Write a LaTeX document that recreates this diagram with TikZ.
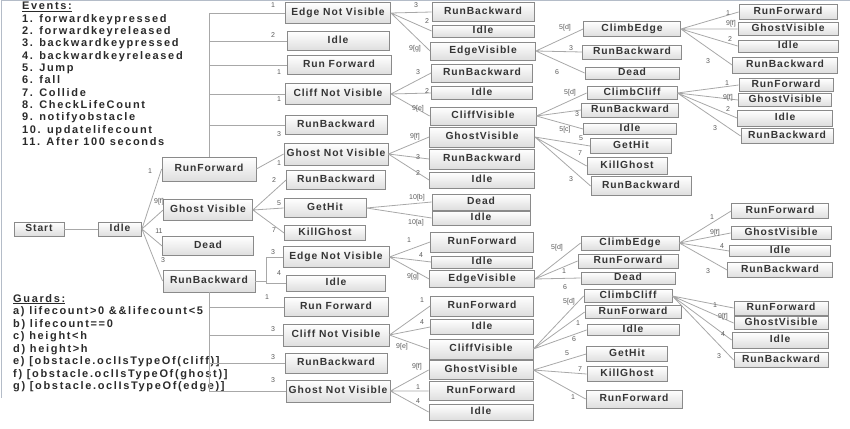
\documentclass[tikz,border=0pt]{standalone}
\usepackage{fontspec}
\setmainfont{Liberation Sans}
\newfontfamily\boxfont[LetterSpace=9]{Liberation Sans}
\newfontfamily\notefont[LetterSpace=15]{Liberation Sans}
\definecolor{boxline}{HTML}{8A8A8A}
\definecolor{boxfill}{HTML}{DEDEDE}
\definecolor{boxtext}{HTML}{353535}
\definecolor{notetext}{HTML}{2A2A2A}
\definecolor{linkgray}{HTML}{A8A8A8}
\definecolor{lblgray}{HTML}{5A5A5A}
\definecolor{frame}{HTML}{B4BCC8}
\tikzset{
	state/.style 2 args={
		rectangle,
		draw=boxline,
		line width=0.8pt,
		top color=white,
		bottom color=boxfill,
		text=boxtext,
		font=\boxfont\bfseries\fontsize{10.3}{12}\selectfont,
		inner sep=0pt,
		text height=7.4pt,
		text depth=1.5pt,
		minimum width=#1,
		minimum height=#2,
	},
	link/.style={draw=linkgray, line width=0.8pt},
	lbl/.style={font=\fontsize{7}{8}\selectfont, text=lblgray, inner sep=0pt},
	note/.style={anchor=west, font=\notefont\bfseries\fontsize{11}{13}\selectfont,
		text=notetext, inner sep=0pt, text height=8pt, text depth=2pt},
}
\begin{document}
\begin{tikzpicture}[x=1pt, y=-1pt]
\useasboundingbox (0,0) rectangle (850,428);
\draw[frame, line width=0.8pt] (1.5,398) -- (1.5,0.5) -- (850,0.5);

% events and guards
\foreach \t [count=\i] in {\underline{Events:}, 1. forwardkeypressed, 2. forwardkeyreleased,
	3. backwardkeypressed, 4. backwardkeyreleased, 5. Jump, 6. fall, 7. Collide,
	8. CheckLifeCount, 9. notifyobstacle, 10. updatelifecount, 11. After 100 seconds}
	\node[note] (ev\i) at (22,{7+12.3*(\i-1)}) {\t};
\foreach \t [count=\i] in {\underline{Guards:}, {a) lifecount>0 \&\&lifecount<5}, {b) lifecount==0},
	{c) height<h}, {d) height>h}, {e) [obstacle.oclIsTypeOf(cliff)]},
	{f) [obstacle.oclIsTypeOf(ghost)]}, {g) [obstacle.oclIsTypeOf(edge)]}}
	\node[note] (gd\i) at (13,{299+12.5*(\i-1)}) {\t};

% root
\node[state={50}{14}] (start) at (39,229) {Start};
\node[state={43}{14}] (idle) at (120,229) {Idle};

% level 1
\node[state={94}{24}] (rf) at (209,169) {RunForward};
\node[state={89}{21}] (gv) at (208,210) {Ghost Visible};
\node[state={91}{19}] (dead) at (208,246) {Dead};
\node[state={92}{22}] (rb) at (209,281) {RunBackward};

% level 2
\node[state={105}{21}] (a1) at (338,13) {Edge Not Visible};
\node[state={102}{19}] (a2) at (338,41) {Idle};
\node[state={104}{19}] (a3) at (339,65) {Run Forward};
\node[state={105}{21}] (a4) at (338,94) {Cliff Not Visible};
\node[state={102}{19}] (a5) at (336,125) {RunBackward};
\node[state={104}{22}] (a6) at (336,154) {Ghost Not Visible};
\node[state={99}{19}] (b1) at (336,180) {RunBackward};
\node[state={82}{19}] (b2) at (325,208) {GetHit};
\node[state={81}{15}] (b3) at (325,233) {KillGhost};
\node[state={106}{21}] (c1) at (336,257) {Edge Not Visible};
\node[state={99}{16}] (c2) at (336,283) {Idle};
\node[state={104}{19}] (c3) at (336,307) {Run Forward};
\node[state={106}{22}] (c4) at (336,335) {Cliff Not Visible};
\node[state={102}{20}] (c5) at (336,363) {RunBackward};
\node[state={104}{22}] (c6) at (338,391) {Ghost Not Visible};

% level 3
\node[state={102}{19}] (d1) at (483,12) {RunBackward};
\node[state={102}{12}] (d2) at (483,31) {Idle};
\node[state={105}{18}] (d3) at (483,51) {EdgeVisible};
\node[state={101}{18}] (d4) at (482,73) {RunBackward};
\node[state={101}{13}] (d5) at (482,93) {Idle};
\node[state={106}{18}] (d6) at (483,116) {CliffVisible};
\node[state={105}{20}] (d7) at (482,137) {GhostVisible};
\node[state={105}{20}] (d8) at (482,159) {RunBackward};
\node[state={105}{16}] (d9) at (482,180) {Idle};
\node[state={98}{16}] (e1) at (481,202) {Dead};
\node[state={98}{14}] (e2) at (481,218) {Idle};
\node[state={103}{20}] (e3) at (482,242) {RunForward};
\node[state={101}{12}] (e4) at (482,262) {Idle};
\node[state={105}{17}] (e5) at (482,279) {EdgeVisible};
\node[state={103}{20}] (e6) at (482,306) {RunForward};
\node[state={103}{15}] (e7) at (482,327) {Idle};
\node[state={104}{20}] (e8) at (481,349) {CliffVisible};
\node[state={104}{19}] (e9) at (481,370) {GhostVisible};
\node[state={104}{19}] (e10) at (481,391) {RunForward};
\node[state={104}{16}] (e11) at (481,412) {Idle};

% level 4
\node[state={97}{15}] (f1) at (632,29) {ClimbEdge};
\node[state={99}{14}] (f2) at (632,52) {RunBackward};
\node[state={94}{12}] (f3) at (632,73) {Dead};
\node[state={90}{13}] (f4) at (632,93) {ClimbCliff};
\node[state={97}{14}] (f5) at (630,110) {RunBackward};
\node[state={93}{11}] (f6) at (630,129) {Idle};
\node[state={81}{15}] (f7) at (631,146) {GetHit};
\node[state={80}{17}] (f8) at (627,166) {KillGhost};
\node[state={100}{19}] (f9) at (641,186) {RunBackward};
\node[state={98}{14}] (g1) at (630,243) {ClimbEdge};
\node[state={100}{14}] (g2) at (628,261) {RunForward};
\node[state={94}{12}] (g3) at (628,278) {Dead};
\node[state={88}{13}] (g4) at (628,296) {ClimbCliff};
\node[state={96}{13}] (g5) at (633,312) {RunForward};
\node[state={92}{11}] (g6) at (633,330) {Idle};
\node[state={81}{15}] (g7) at (627,354) {GetHit};
\node[state={80}{15}] (g8) at (627,374) {KillGhost};
\node[state={96}{18}] (g9) at (634,399) {RunForward};

% level 5
\node[state={98}{15}] (h1) at (788,12) {RunForward};
\node[state={100}{13}] (h2) at (788,29) {GhostVisible};
\node[state={100}{12}] (h3) at (788,46) {Idle};
\node[state={105}{16}] (h4) at (785,65) {RunBackward};
\node[state={94}{13}] (h5) at (786,85) {RunForward};
\node[state={93}{13}] (h6) at (785,100) {GhostVisible};
\node[state={95}{16}] (h7) at (785,118) {Idle};
\node[state={92}{15}] (h8) at (787,136) {RunBackward};
\node[state={97}{15}] (i1) at (780,211) {RunForward};
\node[state={100}{13}] (i2) at (781,233) {GhostVisible};
\node[state={101}{11}] (i3) at (780,251) {Idle};
\node[state={105}{15}] (i4) at (780,270) {RunBackward};
\node[state={94}{14}] (i5) at (781,308) {RunForward};
\node[state={94}{13}] (i6) at (781,323) {GhostVisible};
\node[state={96}{16}] (i7) at (780,340) {Idle};
\node[state={94}{15}] (i8) at (781,360) {RunBackward};

\begin{scope}[link]
\draw (start) -- (idle);
\draw (idle.east) -- (rf.west) (idle.east) -- (gv.west) (idle.east) -- (dead.west) (idle.east) -- (rb.west);
\draw (rf.north) |- (a1.west) (rf.north) |- (a2.west) (rf.north) |- (a3.west) (rf.north) |- (a4.west) (rf.north) |- (a5.west);
\draw (rf.east) -- (a6.west);
\draw (gv.east) -- (b1.west) (gv.east) -- (b2.west) (gv.east) -- (b3.west);
\draw (rb.east) -- ++(11,0) coordinate (rbj) |- (c1.west) (rbj) |- (c2.west);
\draw (rb.south) |- (c3.west) (rb.south) |- (c4.west) (rb.south) |- (c5.west) (rb.south) |- (c6.west);
\draw (a1.east) -- (d1.west) (a1.east) -- (d2.west) (a1.east) -- (d3.west);
\draw (a4.east) -- (d4.west) (a4.east) -- (d5.west) (a4.east) -- (d6.west);
\draw (a6.east) -- (d7.west) (a6.east) -- (d8.west) (a6.east) -- (d9.west);
\draw (b2.east) -- (e1.west) (b2.east) -- (e2.west);
\draw (c1.east) -- (e3.west) (c1.east) -- (e4.west) (c1.east) -- (e5.west);
\draw (c4.east) -- (e6.west) (c4.east) -- (e7.west) (c4.east) -- (e8.west);
\draw (c6.east) -- (e9.west) (c6.east) -- (e10.west) (c6.east) -- (e11.west);
\draw (d3.east) -- (f1.west) (d3.east) -- (f2.west) (d3.east) -- (f3.west);
\draw (d6.east) -- (f4.west) (d6.east) -- (f5.west) (d6.east) -- (f6.west);
\draw (d7.east) -- (f7.west) (d7.east) -- (f8.west) (d7.east) -- (f9.west);
\draw (e5.east) -- (g1.west) (e5.east) -- (g2.west) (e5.east) -- (g3.west);
\draw (e8.east) -- (g4.west) (e8.east) -- (g5.west) (e8.east) -- (g6.west);
\draw (e9.east) -- (g7.west) (e9.east) -- (g8.west) (e9.east) -- (g9.west);
\draw (f1.east) -- (h1.west) (f1.east) -- (h2.west) (f1.east) -- (h3.west) (f1.east) -- (h4.west);
\draw (f4.east) -- (h5.west) (f4.east) -- (h6.west) (f4.east) -- (h7.west) (f4.east) -- (h8.west);
\draw (g1.east) -- (i1.west) (g1.east) -- (i2.west) (g1.east) -- (i3.west) (g1.east) -- (i4.west);
\draw (g4.east) -- (i5.west) (g4.east) -- (i6.west) (g4.east) -- (i7.west) (g4.east) -- (i8.west);
\end{scope}

% transition labels
\foreach \x/\y/\t [count=\i] in {150/171/1, 159/202/9[f], 159/231/11, 163/260/3,
	273/5/1, 273/35/2, 279/72/1, 279/99/1, 279/134/3, 279/163/1,
	274/180/2, 279/203/5, 274/230/7, 273/252/3, 279/273/4,
	267/297/1, 273/329/3, 273/357/3, 273/380/3,
	416/5/3, 427/21/2, 415/49/9[g], 418/72/3, 427/91/2, 418/109/9[e],
	415/137/9[f], 418/157/3, 418/173/2, 417/198/10[b], 416/223/10[a],
	409/240/1, 421/255/4, 413/277/9[g], 422/300/1, 422/322/4, 402/347/9[e],
	417/367/9[f], 418/387/1, 418/401/4,
	565/28/5[d], 571/48/3, 557/72/6, 570/93/5[d], 577/114/3, 565/130/5[c],
	581/138/5, 580/153/7, 571/179/3,
	557/248/5[d], 564/271/1, 565/287/6, 569/302/5[d], 578/323/1, 574/339/6,
	567/353/5, 580/369/7, 573/397/1,
	728/13/1, 731/24/9[f], 730/39/2, 708/61/3, 727/83/1, 728/98/9[f], 728/109/2, 715/128/3,
	712/217/1, 715/233/9[f], 722/246/4, 708/271/3, 715/305/1, 723/317/9[f], 723/334/4, 719/356/3}
	\node[lbl] (t\i) at (\x,\y) {\t};
\end{tikzpicture}
\end{document}
